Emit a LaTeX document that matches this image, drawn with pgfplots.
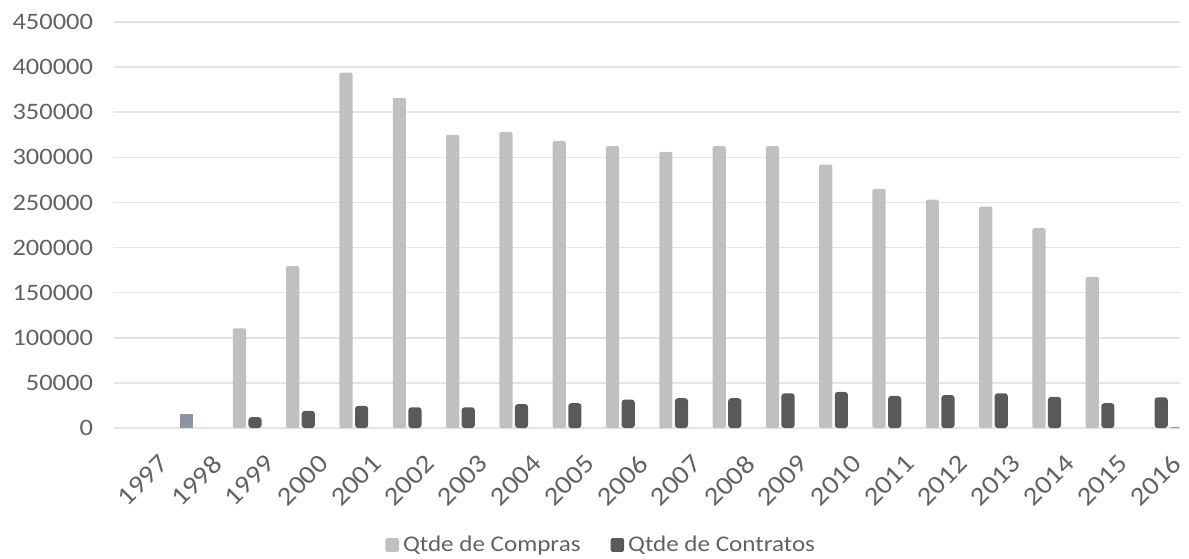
\documentclass[border=0pt]{standalone}
\usepackage{fontspec}
\setmainfont{Carlito}[FakeStretch=1.12,Numbers=Lining]
\usepackage{pgfplots}
\pgfplotsset{compat=1.18}
\definecolor{compras}{HTML}{C0C0C0}
\definecolor{contratos}{HTML}{595959}
\definecolor{bluegray}{HTML}{8C96A2}
\definecolor{txt}{HTML}{626262}
\definecolor{grd}{HTML}{E4E4E4}
\begin{document}
\begin{tikzpicture}[x=1pt,y=1pt]
\useasboundingbox (-57pt,-65pt) rectangle (537.5pt,214pt);
\begin{axis}[
  at={(0,0)}, anchor=south west,
  scale only axis,
  width=533pt, height=203pt,
  xmin=-0.5, xmax=19.5,
  ymin=0, ymax=450000,
  ytick={0,50000,...,450000},
  xtick={0,...,19},
  xticklabels={1997,1998,1999,2000,2001,2002,2003,2004,2005,2006,2007,2008,2009,2010,2011,2012,2013,2014,2015,2016},
  scaled y ticks=false,
  yticklabel style={/pgf/number format/fixed,/pgf/number format/1000 sep={},/pgf/number format/assume math mode=true,font=\fontsize{11.8}{13}\selectfont,text=txt,xshift=-7pt},
  xticklabel style={rotate=45,anchor=north east,font=\fontsize{13}{15}\selectfont,text=txt,xshift=3.5pt,yshift=-8.5pt},
  axis line style={draw=none},
  major tick style={draw=none},
  ymajorgrids, grid style={grd,line width=0.8pt},
  ybar, bar width=6.6pt,
  legend style={at={(0.458,-58.5pt)},anchor=center,draw=none,fill=none,
    legend columns=2,font=\fontsize{11.2}{13}\selectfont,text=txt,
    /tikz/every even column/.append style={column sep=13pt}},
  legend image code/.code={\fill[#1,rounded corners=0.8pt] (-1.5pt,-3.4pt) rectangle (5.3pt,3.4pt);},
]
\addplot[fill=compras,draw=none,bar shift=-3.9pt,rounded corners=1pt] coordinates {
(2,110500)(3,179500)(4,394000)(5,366000)(6,325000)(7,328000)(8,318000)(9,312500)
(10,306000)(11,312500)(12,312500)(13,292000)(14,265000)(15,253000)(16,245500)(17,221500)(18,167500)};
\addlegendentry{Qtde de Compras}
\addplot[fill=contratos,draw=none,bar shift=3.9pt,rounded corners=1.5pt] coordinates {
(2,12000)(3,19000)(4,24500)(5,23000)(6,23000)(7,26500)(8,27500)(9,31500)
(10,33000)(11,33000)(12,38500)(13,40000)(14,35500)(15,36500)(16,38500)(17,34500)(18,27500)(19,34000)};
\addlegendentry{Qtde de Contratos}
\addplot[fill=bluegray,draw=none,bar shift=-3.6pt,forget plot] coordinates {(1,16000)};
\addplot[fill=bluegray!60!brown,draw=none,bar shift=11pt,bar width=4pt,forget plot] coordinates {(19,1500)};
\end{axis}
\end{tikzpicture}
\end{document}
